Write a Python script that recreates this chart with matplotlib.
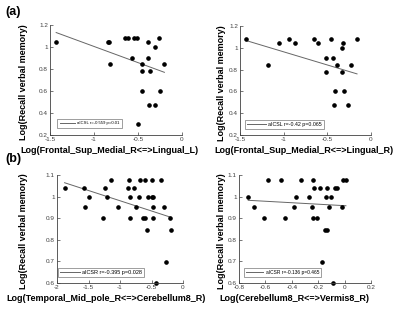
import numpy as np
import matplotlib
matplotlib.use("Agg")
import matplotlib.pyplot as plt

plt.rcParams['font.family'] = ['Liberation Sans', 'DejaVu Sans']

# Panel (a) left
x1 = [-1.43, -0.84, -0.83, -0.82, -0.65, -0.61, -0.54, -0.51, -0.57, -0.39, -0.39,
      -0.45, -0.45, -0.36, -0.45, -0.37, -0.31, -0.31, -0.26, -0.25, -0.20, -0.50]
y1 = [1.041, 1.041, 1.041, 0.845, 1.079, 1.079, 1.079, 1.079, 0.903, 1.041, 0.903,
      0.845, 0.778, 0.778, 0.602, 0.477, 0.477, 1.000, 1.079, 0.602, 0.845, 0.301]
# Panel (a) right
x2 = [-1.43, -1.18, -1.05, -0.94, -0.87, -0.65, -0.61, -0.46, -0.52, -0.44, -0.51,
      -0.39, -0.33, -0.32, -0.33, -0.41, -0.31, -0.42, -0.26, -0.23, -0.16]
y2 = [1.079, 0.845, 1.041, 1.079, 1.041, 1.079, 1.041, 1.079, 0.903, 0.903, 0.778,
      0.845, 1.000, 1.041, 0.778, 0.602, 0.602, 0.477, 0.477, 0.845, 1.079]
# Panel (b) left
x3 = [-1.88, -1.57, -1.56, -1.49, -1.27, -1.24, -1.21, -1.15, -1.03, -0.88, -0.86,
      -0.84, -0.84, -0.77, -0.75, -0.69, -0.70, -0.63, -0.61, -0.60, -0.57, -0.56,
      -0.50, -0.49, -0.48, -0.48, -0.48, -0.35, -0.30, -0.27, -0.20, -0.19, -0.43]
y3 = [1.041, 1.041, 0.954, 1.000, 0.903, 1.041, 1.000, 1.079, 0.954, 1.041, 1.079,
      1.000, 0.903, 1.041, 0.954, 1.079, 1.000, 0.903, 0.903, 1.079, 0.845, 1.000,
      1.079, 1.000, 1.000, 0.954, 0.903, 1.079, 0.954, 0.699, 0.903, 0.845, 0.602]
# Panel (b) right
x4 = [-0.73, -0.69, -0.61, -0.58, -0.48, -0.45, -0.38, -0.37, -0.33, -0.27, -0.25,
      -0.24, -0.23, -0.24, -0.21, -0.19, -0.15, -0.13, -0.17, -0.14, -0.13, -0.12,
      -0.10, -0.07, -0.06, -0.09, -0.02, -0.01, 0.01]
y4 = [1.000, 0.954, 0.903, 1.079, 1.079, 0.903, 0.954, 1.000, 1.079, 1.000, 0.954,
      1.079, 1.041, 0.903, 0.903, 1.041, 0.845, 0.845, 0.699, 1.000, 1.041, 0.954,
      1.000, 1.041, 1.041, 0.602, 0.954, 1.079, 1.079]

# regression line (slope, intercept) as drawn in the figure
fit_slope = [-0.294, -0.241, -0.0948, -0.0341]
fit_intercept = [0.711, 0.722, 0.886, 0.958]

xlabels = ['Log(Frontal_Sup_Medial_R<=>Lingual_L)', 'Log(Frontal_Sup_Medial_R<=>Lingual_R)',
           'Log(Temporal_Mid_pole_R<=>Cerebellum8_R)', 'Log(Cerebellum8_R<=>Vermis8_R)']
legends = ['aICSL r=-0.559 p=0.01', 'aICSL r=-0.42 p=0.065',
           'aICSR r=-0.395 p=0.028', 'aICSR r=-0.136 p=0.465']
xlims = [(-1.5, 0), (-1.5, 0), (-2, 0), (-0.8, 0.2)]
ylims = [(0.2, 1.2), (0.2, 1.2), (0.6, 1.1), (0.6, 1.1)]
xticks = [[-1.5, -1, -0.5, 0], [-1.5, -1, -0.5, 0], [-2, -1.5, -1, -0.5, 0],
          [-0.8, -0.6, -0.4, -0.2, 0, 0.2]]
yticks = [[0.2, 0.4, 0.6, 0.8, 1, 1.2], [0.2, 0.4, 0.6, 0.8, 1, 1.2],
          [0.6, 0.7, 0.8, 0.9, 1, 1.1], [0.6, 0.7, 0.8, 0.9, 1, 1.1]]

W, H = 400, 319
rects = [(50, 25, 182, 135), (240, 26, 371, 135), (57, 175, 183, 283), (239, 175, 371, 283)]
xlab_x = [0.45, 0.49, 0.39, 0.42]
ylab_px = [28, 226, 28, 226]
leg_fs = [3.1, 3.8, 4.0, 3.5]
leg_pad = [0.6, 0.4, 0.35, 0.45]
leg_anchor = [(0.053, 0.064), (0.038, 0.055), (0.01, 0.056), (0.038, 0.056)]

fig = plt.figure(figsize=(4.0, 3.19), dpi=100)
data = [(x1, y1), (x2, y2), (x3, y3), (x4, y4)]
axc = '#404040'
for i, ((xs, ys), (l, t, r, b)) in enumerate(zip(data, rects)):
    ax = fig.add_axes([l / W, 1 - b / H, (r - l) / W, (b - t) / H])
    xs = np.array(xs); ys = np.array(ys)
    xx = np.array([xs.min(), xs.max()])
    ax.plot(xx, fit_slope[i] * xx + fit_intercept[i], color='#666666', lw=0.7,
            label=legends[i])
    ax.plot(xs, ys, 'o', color='black', ms=2.3, clip_on=False)
    ax.set_xlim(*xlims[i]); ax.set_ylim(*ylims[i])
    ax.set_xticks(xticks[i]); ax.set_yticks(yticks[i])
    ax.set_xticklabels([f'{v:g}' for v in xticks[i]])
    ax.set_yticklabels([f'{v:g}' for v in yticks[i]])
    for s in ['top', 'right']:
        ax.spines[s].set_visible(False)
    for s in ['left', 'bottom']:
        ax.spines[s].set_color(axc); ax.spines[s].set_linewidth(0.6)
    ax.tick_params(direction='in', length=2, width=0.5, colors=axc, labelsize=4.6, pad=1.5)
    ax.set_xlabel(xlabels[i], fontsize=6.5, fontweight='bold', labelpad=2)
    ax.xaxis.set_label_coords(xlab_x[i], -0.1)
    ax.set_ylabel('Log(Recall verbal memory)', fontsize=6.5, fontweight='bold')
    ax.yaxis.set_label_coords((ylab_px[i] - l) / (r - l), 0.48)
    leg = ax.legend(loc='lower left', fontsize=leg_fs[i], frameon=True, fancybox=False,
                    handlelength=3.5, borderpad=leg_pad[i], handletextpad=0.5,
                    borderaxespad=0, bbox_to_anchor=leg_anchor[i])
    leg.get_frame().set_edgecolor('#555555'); leg.get_frame().set_linewidth(0.5)

fig.text(5 / W, 1 - 12 / H, '(a)', fontsize=9, fontweight='bold', va='center')
fig.text(5 / W, 1 - 159 / H, '(b)', fontsize=9, fontweight='bold', va='center')
fig.savefig('out.png', dpi=100, facecolor='white')
